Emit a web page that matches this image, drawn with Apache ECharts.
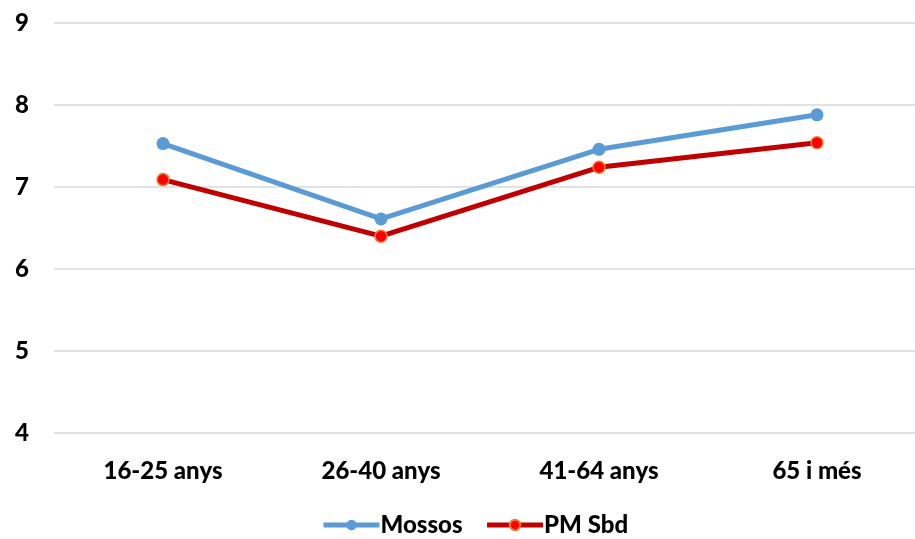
<!DOCTYPE html>
<html><head><meta charset="utf-8">
<script src="https://cdn.jsdelivr.net/npm/echarts@6/dist/echarts.min.js"></script>
<style>html,body{margin:0;padding:0;background:#fff;overflow:hidden;width:915px;height:539px}#c{width:926px;height:539px}</style>
</head><body><div id="c"></div>
<script>
var categories = ["16-25 anys", "26-40 anys", "41-64 anys", "65 i més"];
var mossos = [7.53, 6.61, 7.46, 7.88];
var pmSbd = [7.09, 6.40, 7.24, 7.54];
var yTicks = [4, 5, 6, 7, 8, 9];

var FONT = 'Lato, "Noto Sans", sans-serif';
var chart = echarts.init(document.getElementById('c'), null, {renderer: 'canvas'});
chart.setOption({
  animation: false,
  grid: {left: 54, top: 23, right: 0, bottom: 106, containLabel: false},
  legend: {
    top: 508, left: 316, itemGap: 22, itemWidth: 56, itemHeight: 13,
    lineStyle: {width: 5},
    textStyle: {fontFamily: FONT, fontWeight: 900, fontSize: 24, color: '#000', padding: [0, 0, 0, -4]},
    data: ['Mossos', 'PM Sbd']
  },
  xAxis: {
    type: 'category', data: categories, boundaryGap: true,
    axisLine: {show: false}, axisTick: {show: false},
    axisLabel: {margin: 26, fontFamily: FONT, fontWeight: 900, fontSize: 24, color: '#000'}
  },
  yAxis: {
    type: 'value', min: yTicks[0], max: yTicks[yTicks.length - 1], interval: 1,
    axisLine: {show: false}, axisTick: {show: false},
    splitLine: {lineStyle: {color: '#D9D9D9', width: 1.5}},
    axisLabel: {margin: 25, fontFamily: FONT, fontWeight: 900, fontSize: 24, color: '#000'}
  },
  series: [
    {name: 'Mossos', type: 'line', data: mossos, symbol: 'circle', symbolSize: 13,
     lineStyle: {color: '#5B9BD5', width: 5}, itemStyle: {color: '#5B9BD5'}},
    {name: 'PM Sbd', type: 'line', data: pmSbd, symbol: 'circle', symbolSize: 12,
     lineStyle: {color: '#C00000', width: 5},
     itemStyle: {color: '#FF0000', borderColor: '#ED7D31', borderWidth: 1.5}}
  ]
});
</script></body></html>
